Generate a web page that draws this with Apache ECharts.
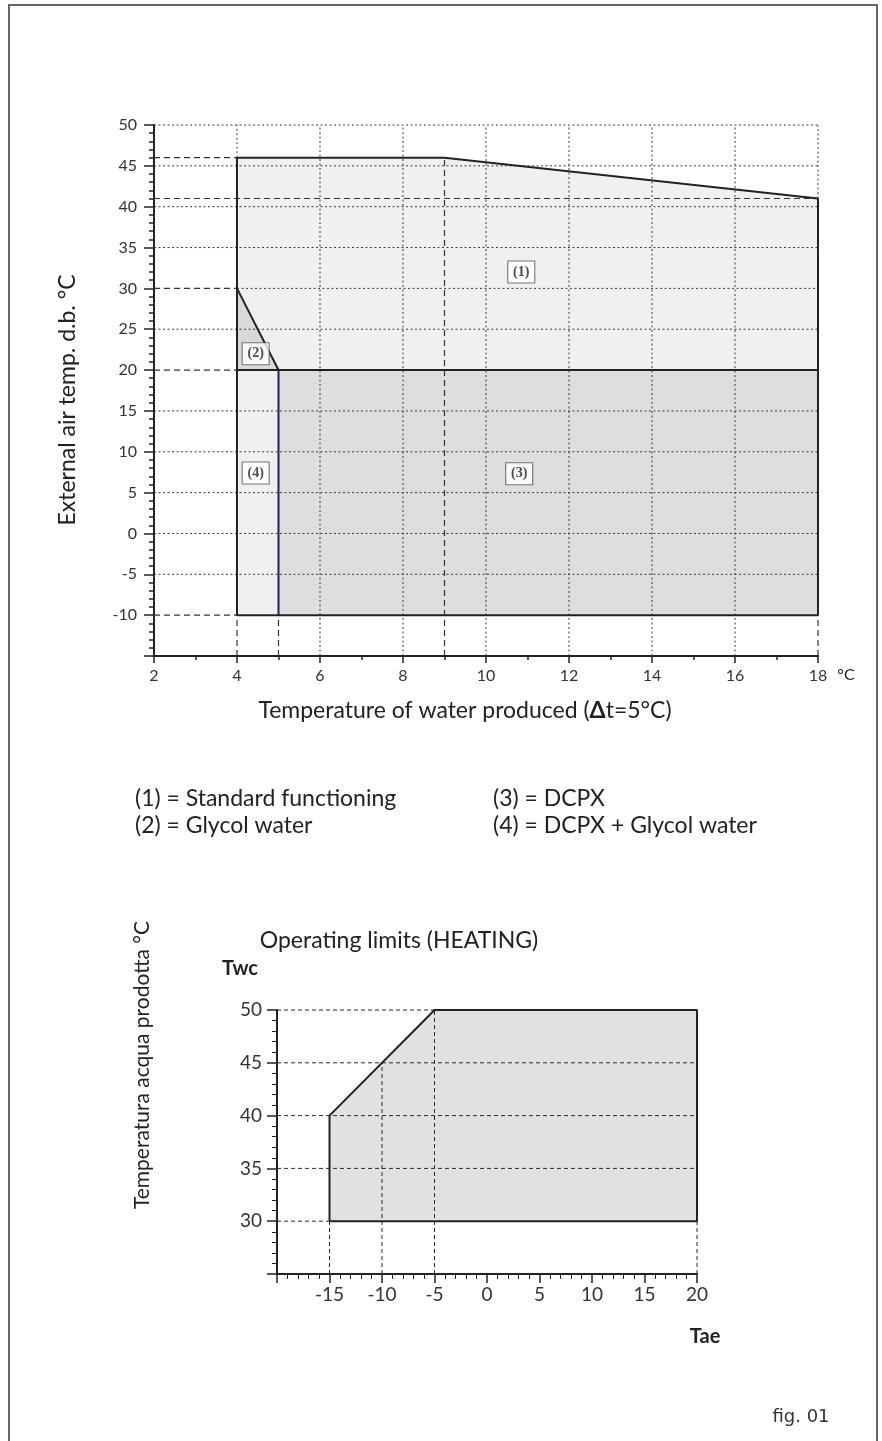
<!DOCTYPE html>
<html>
<head>
<meta charset="utf-8">
<script src="https://cdn.jsdelivr.net/npm/echarts@6/dist/echarts.min.js"></script>
<style>
  html, body { margin: 0; padding: 0; background: #fff; }
  #chart { width: 882px; height: 1441px; }
</style>
</head>
<body>
<div id="chart"></div>
<script>
// ---- Cooling limits: water produced (°C) vs external air d.b. (°C) ----
const coolStandard    = [[4, 30], [4, 46], [9, 46], [18, 41], [18, 20], [5, 20]];
const coolGlycol      = [[4, 30], [5, 20], [4, 20]];
const coolDcpx        = [[5, 20], [18, 20], [18, -10], [5, -10]];
const coolDcpxGlycol  = [[4, 20], [5, 20], [5, -10], [4, -10]];
const coolEnvelope    = [[4, -10], [4, 46], [9, 46], [18, 41], [18, -10], [4, -10]];
const coolDiagonal    = [[4, 30], [5, 20]];
const coolSplit20     = [[4, 20], [18, 20]];
const coolDcpxEdge    = [[5, 20], [5, -10]];
const coolTags        = [[10.85, 32, '(1)'], [4.45, 22, '(2)'], [10.8, 7.3, '(3)'], [4.45, 7.4, '(4)']];

// dotted grid rows / columns and dashed reference segments [x1, y1, x2, y2]
const coolGridRows    = [50, 45, 40, 35, 25, 15, 10, 5, 0, -5];
const coolGridCols    = [6, 8, 10, 12, 14, 16];
const coolDottedExtra = [[4, 30, 18, 30], [4, 46, 4, 50], [18, 41, 18, 50]];
const coolDashed      = [[2, 46, 4, 46], [2, 41, 18, 41], [2, 30, 4, 30], [2, 20, 4, 20], [2, -10, 4, -10],
                         [4, -15, 4, -10], [5, -15, 5, -10], [9, -15, 9, 46], [18, -15, 18, -10]];

// ---- Heating limits: Tae (°C) vs Twc (°C) ----
const heatEnvelope    = [[-15, 30], [-15, 40], [-5, 50], [20, 50], [20, 30], [-15, 30]];
const heatGridRows    = [35, 40, 45];
const heatDashed      = [[-20, 50, -5, 50], [-20, 30, -15, 30],
                         [-15, 25, -15, 30], [-10, 25, -10, 45], [-5, 25, -5, 50], [20, 25, 20, 30]];

const legendLeft  = ['(1) = Standard functioning', '(2) = Glycol water'];
const legendRight = ['(3) = DCPX', '(4) = DCPX + Glycol water'];

const FONT = 'Lato, "Open Sans", sans-serif';
const INK = '#222';

const coolDotted = coolGridRows.map(y => [2, y, 18, y])
  .concat(coolGridCols.map(x => [x, -15, x, 50]))
  .concat(coolDottedExtra);
const heatDashedAll = heatGridRows.map(y => [-20, y, 20, y]).concat(heatDashed);

function segmentSeries(xi, yi, segs, color, width, dash, z) {
  return {
    type: 'custom', xAxisIndex: xi, yAxisIndex: yi, silent: true, z: z,
    encode: { x: [0, 2], y: [1, 3] },
    data: segs,
    renderItem: function (params, api) {
      const a = api.coord([api.value(0), api.value(1)]);
      const b = api.coord([api.value(2), api.value(3)]);
      return {
        type: 'line',
        shape: { x1: a[0], y1: a[1], x2: b[0], y2: b[1] },
        style: { stroke: color, lineWidth: width, lineDash: dash }
      };
    }
  };
}

function polygonSeries(xi, yi, pts, fill, z) {
  return {
    type: 'custom', xAxisIndex: xi, yAxisIndex: yi, silent: true, z: z,
    data: pts,
    renderItem: function (params, api) {
      if (params.dataIndex !== 0) return null;
      return {
        type: 'polygon',
        shape: { points: pts.map(p => api.coord(p)) },
        style: { fill: fill, stroke: null }
      };
    }
  };
}

function outlineSeries(xi, yi, pts, color, width, z) {
  return {
    type: 'line', xAxisIndex: xi, yAxisIndex: yi, silent: true, z: z,
    data: pts, symbol: 'none', animation: false,
    lineStyle: { color: color, width: width }
  };
}

function text(x, y, str, size, opts) {
  opts = opts || {};
  return {
    type: 'text', x: x, y: y, rotation: opts.rotation || 0, z: 10,
    style: {
      text: str, fill: opts.color || INK,
      font: (opts.weight || 'normal') + ' ' + size + 'px ' + (opts.family || FONT),
      align: opts.align || 'center', verticalAlign: 'middle',
      textAlign: opts.align || 'center', textVerticalAlign: 'middle',
      rich: opts.rich
    }
  };
}

const chart = echarts.init(document.getElementById('chart'), null, { renderer: 'canvas' });

const tickLabel = (size, margin, hide) => ({
  fontFamily: FONT, fontSize: size, color: '#333', margin: margin,
  formatter: v => (v === hide ? '' : String(v))
});

chart.setOption({
  animation: false,
  backgroundColor: '#fff',
  grid: [
    { left: 154, top: 125, width: 664, height: 531 },
    { left: 277, top: 1010, width: 420, height: 264 }
  ],
  xAxis: [
    {
      gridIndex: 0, type: 'value', min: 2, max: 18, interval: 2, position: 'bottom',
      axisLine: { onZero: false, lineStyle: { color: INK, width: 2 } },
      axisTick: { length: 7, lineStyle: { color: INK, width: 1.5 } },
      minorTick: { show: true, splitNumber: 2, length: 4, lineStyle: { color: INK, width: 1.5 } },
      splitLine: { show: false },
      axisLabel: tickLabel(16, 12)
    },
    {
      gridIndex: 1, type: 'value', min: -20, max: 20, interval: 5, position: 'bottom',
      axisLine: { onZero: false, lineStyle: { color: INK, width: 2 } },
      axisTick: { length: 9, lineStyle: { color: INK, width: 1.5 } },
      minorTick: { show: true, splitNumber: 5, length: 5, lineStyle: { color: INK, width: 1 } },
      splitLine: { show: false },
      axisLabel: tickLabel(19, 11, -20)
    }
  ],
  yAxis: [
    {
      gridIndex: 0, type: 'value', min: -15, max: 50, interval: 5, position: 'left',
      axisLine: { show: true, onZero: false, lineStyle: { color: INK, width: 2 } },
      axisTick: { show: true, length: 10, lineStyle: { color: INK, width: 1.5 } },
      minorTick: { show: true, splitNumber: 5, length: 5, lineStyle: { color: INK, width: 1.5 } },
      splitLine: { show: false },
      axisLabel: tickLabel(16, 17, -15)
    },
    {
      gridIndex: 1, type: 'value', min: 25, max: 50, interval: 5, position: 'left',
      axisLine: { show: true, onZero: false, lineStyle: { color: INK, width: 2 } },
      axisTick: { show: true, length: 10, lineStyle: { color: INK, width: 1.5 } },
      minorTick: { show: true, splitNumber: 5, length: 5, lineStyle: { color: INK, width: 1 } },
      splitLine: { show: false },
      axisLabel: tickLabel(19, 15, 25)
    }
  ],
  series: [
    // cooling regions
    polygonSeries(0, 0, coolStandard, '#f0f0f0', 1),
    polygonSeries(0, 0, coolDcpxGlycol, '#f0f0f0', 1),
    polygonSeries(0, 0, coolGlycol, '#d9d9db', 1),
    polygonSeries(0, 0, coolDcpx, '#dddee0', 1),
    segmentSeries(0, 0, coolDotted, '#3a3a3a', 1, [2, 2.5], 2),
    segmentSeries(0, 0, coolDashed, '#333', 1.2, [6, 4], 2),
    outlineSeries(0, 0, coolEnvelope, INK, 2, 3),
    outlineSeries(0, 0, coolDiagonal, INK, 2, 3),
    outlineSeries(0, 0, coolSplit20, INK, 2, 3),
    outlineSeries(0, 0, coolDcpxEdge, '#1f2150', 2, 4),
    {
      type: 'scatter', xAxisIndex: 0, yAxisIndex: 0, silent: true, z: 5,
      data: coolTags, symbol: 'rect', symbolSize: [27, 22],
      itemStyle: { color: '#fff', borderColor: '#555', borderWidth: 1 },
      label: {
        show: true, position: 'inside', formatter: p => p.value[2],
        fontFamily: '"Liberation Serif", serif', fontWeight: 'bold', fontSize: 14, color: INK
      }
    },
    // heating envelope
    polygonSeries(1, 1, heatEnvelope, '#e0e1e3', 1),
    segmentSeries(1, 1, heatDashedAll, '#2a2a2a', 1, [4, 3], 2),
    outlineSeries(1, 1, heatEnvelope, INK, 2, 3)
  ],
  graphic: [
    {
      type: 'rect', z: 0, silent: true,
      shape: { x: 9, y: 5, width: 868, height: 1500 },
      style: { fill: null, stroke: '#666', lineWidth: 2 }
    },
    text(68, 400, 'External air temp. d.b. °C', 23, { rotation: Math.PI / 2 }),
    text(465, 711, 'Temperature of water produced ({d|Δ}t=5°C)', 23, {
      rich: { d: { fontWeight: 'bold', fontSize: 23, fontFamily: FONT, fill: INK } }
    }),
    text(846, 675, '°C', 16),
    text(135, 799, legendLeft[0], 23, { align: 'left' }),
    text(135, 826, legendLeft[1], 23, { align: 'left' }),
    text(493, 799, legendRight[0], 23, { align: 'left' }),
    text(493, 826, legendRight[1], 23, { align: 'left' }),
    text(399, 941, 'Operating limits (HEATING)', 23),
    text(240, 969, 'Twc', 20, { weight: 'bold' }),
    text(705, 1337, 'Tae', 20, { weight: 'bold' }),
    text(142, 1065, 'Temperatura acqua prodotta °C', 21, { rotation: Math.PI / 2 }),
    text(801, 1417, 'fig. 01', 18, { family: '"DejaVu Sans", sans-serif', color: '#333' })
  ]
});
</script>
</body>
</html>
